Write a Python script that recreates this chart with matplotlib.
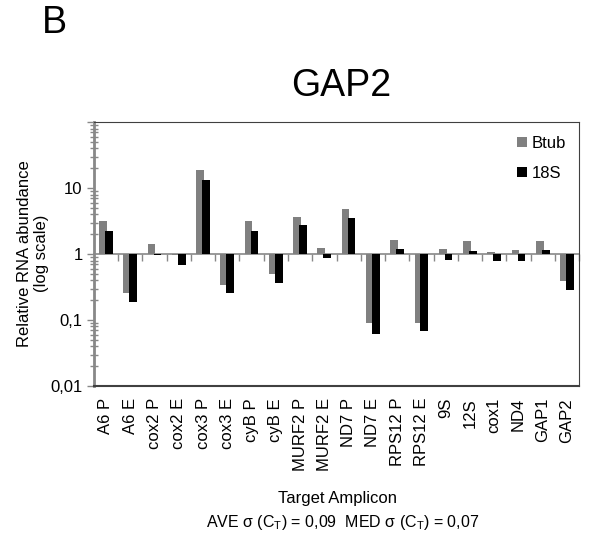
import matplotlib.pyplot as plt
import numpy as np
from matplotlib.ticker import LogLocator, FixedLocator, FixedFormatter, NullFormatter

plt.rcParams['font.family'] = ['Liberation Sans', 'DejaVu Sans']

# data
amplicons = ['A6 P', 'A6 E', 'cox2 P', 'cox2 E', 'cox3 P', 'cox3 E', 'cyB P', 'cyB E',
             'MURF2 P', 'MURF2 E', 'ND7 P', 'ND7 E', 'RPS12 P', 'RPS12 E', '9S', '12S',
             'cox1', 'ND4', 'GAP1', 'GAP2']
btub = [3.15, 0.26, 1.42, 0.97, 18.8, 0.34, 3.15, 0.50, 3.6, 1.23, 4.9, 0.090,
        1.63, 0.090, 1.19, 1.57, 1.07, 1.14, 1.57, 0.39]
s18 = [2.28, 0.19, 0.96, 0.68, 13.5, 0.26, 2.28, 0.36, 2.72, 0.86, 3.55, 0.061,
       1.19, 0.069, 0.82, 1.12, 0.78, 0.78, 1.14, 0.285]

fig = plt.figure(figsize=(5.94, 5.43), dpi=100)
ax = fig.add_axes([0.158, 0.289, 0.817, 0.486])

x = np.arange(len(amplicons))
w = 0.32
# bars grow from 1 (log baseline)
ax.bar(x - 0.125, np.array(btub) - 1, bottom=1, width=w, color='#808080', label='Btub', zorder=2)
ax.bar(x + 0.12, np.array(s18) - 1, bottom=1, width=w, color='#000000', label='18S', zorder=3)

ax.set_yscale('log')
ax.set_ylim(0.01, 100)
ax.set_xlim(-0.5, len(amplicons) - 0.5)

ax.yaxis.set_major_locator(FixedLocator([0.01, 0.1, 1, 10, 100]))
ax.yaxis.set_major_formatter(FixedFormatter(['0,01', '0,1', '1', '10', '']))
ax.yaxis.set_minor_locator(LogLocator(base=10, subs=np.arange(2, 10)))
ax.yaxis.set_minor_formatter(NullFormatter())
ax.tick_params(axis='y', which='major', direction='out', length=5, width=1,
               color='#888888', labelsize=12, pad=3)
ax.tick_params(axis='y', which='minor', direction='inout', length=6, width=1,
               color='#888888')

ax.set_xticks(x)
ax.set_xticklabels(amplicons, rotation=90, fontsize=12)
ax.tick_params(axis='x', length=0, pad=8.5)

for side in ['top', 'right', 'bottom']:
    ax.spines[side].set_color('#404040')
ax.spines['left'].set_color('#888888')
ax.spines['left'].set_linewidth(2)
ax.spines['bottom'].set_linewidth(1.5)

# category axis drawn at y = 1
sec = ax.secondary_xaxis(0.5)
sec.set_xticks(np.arange(len(amplicons)) + 0.5)
sec.set_xticklabels([])
sec.tick_params(direction='in', length=5, width=1, color='#888888')
sec.spines['top'].set_color('#888888')
sec.spines['bottom'].set_color('#888888')
sec.spines['top'].set_linewidth(1.2)

ax.legend(loc='upper right', frameon=False, fontsize=12, handlelength=0.6,
          handleheight=0.55, handletextpad=0.25, labelspacing=0.95,
          borderaxespad=0.2, borderpad=0.6)

fig.text(33 / 594, 1 - 253.5 / 543, 'Relative RNA abundance\n(log scale)', fontsize=12,
         rotation=90, ha='center', va='center', multialignment='center')
fig.text(338 / 594, 1 - 499 / 543, 'Target Amplicon', fontsize=12, ha='center', va='center')
fig.text(0.575, 1 - 96 / 543, 'GAP2', fontsize=27, ha='center', va='baseline')
fig.text(0.071, 1 - 33 / 543, 'B', fontsize=27, va='baseline')
fig.text(343 / 594, 1 - 523 / 543,
         r'AVE σ (C$_\mathregular{T}$) = 0,09  MED σ (C$_\mathregular{T}$) = 0,07',
         fontsize=11.5, ha='center', va='center')

fig.savefig('out.png', dpi=100)
